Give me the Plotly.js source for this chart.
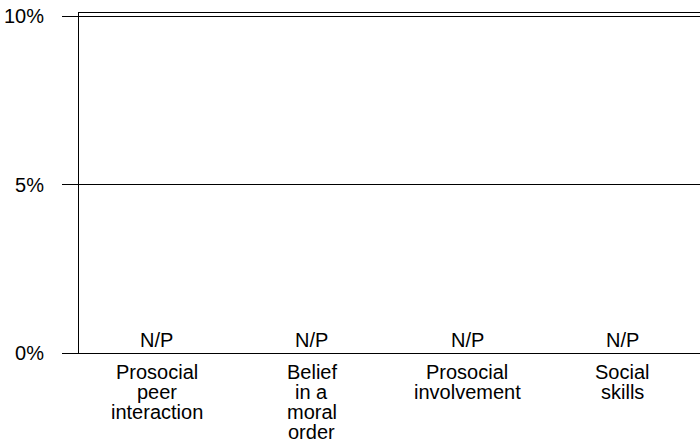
<!DOCTYPE html>
<html>
<head>
<meta charset="utf-8">
<script src="https://cdn.plot.ly/plotly-3.0.1.min.js"></script>
<style>html,body{margin:0;padding:0;background:#fff;}#chart{width:700px;height:442px;}</style>
</head>
<body>
<div id="chart"></div>
<script>
const categories = ["Prosocial peer interaction", "Belief in a moral order", "Prosocial involvement", "Social skills"];
const categoryLines = [["Prosocial", "peer", "interaction"], ["Belief", "in a", "moral", "order"], ["Prosocial", "involvement"], ["Social", "skills"]];
const values = [null, null, null, null];
const valueLabels = ["N/P", "N/P", "N/P", "N/P"];
const yTickVals = [0, 5, 10];
const yTickText = ["0%", "5%", "10%"];

const font = "Liberation Sans, Arial, sans-serif";
const FS = 20;

const data = [{
  type: "bar",
  x: categories,
  y: values,
  marker: {color: "#4f81bd"},
  hoverinfo: "skip"
}];

const annotations = [];
categories.forEach((c, i) => {
  annotations.push({
    x: c, y: 0, xref: "x", yref: "y",
    text: valueLabels[i], showarrow: false,
    yanchor: "bottom", yshift: 0,
    font: {family: font, size: FS, color: "#000"}
  });
  categoryLines[i].forEach((ln, j) => {
    annotations.push({
      x: c, y: 0, xref: "x", yref: "paper",
      text: ln, showarrow: false, borderpad: 0,
      yanchor: "middle", yshift: -(18.5 + 20.2 * j),
      font: {family: font, size: FS, color: "#000"}
    });
  });
});

const layout = {
  width: 700, height: 442,
  margin: {l: 79, r: 0, t: 13, b: 89},
  paper_bgcolor: "#fff", plot_bgcolor: "#fff",
  showlegend: false,
  font: {family: font, size: FS, color: "#000"},
  xaxis: {
    type: "category",
    categoryarray: categories,
    range: [-0.5, 3.5],
    showline: true, linecolor: "#000", linewidth: 1, mirror: true,
    ticks: "", showgrid: false, zeroline: false,
    showticklabels: false,
    fixedrange: true
  },
  yaxis: {
    range: [0, 10.089],
    tickvals: yTickVals, ticktext: yTickText,
    ticks: "outside", ticklen: 16, tickcolor: "#000", tickwidth: 1,
    ticklabelstandoff: 14,
    showgrid: true, gridcolor: "#000", gridwidth: 1,
    showline: true, linecolor: "#000", linewidth: 1,
    zeroline: false,
    tickfont: {family: font, size: FS, color: "#000"},
    fixedrange: true
  },
  annotations: annotations
};

Plotly.newPlot("chart", data, layout, {displayModeBar: false, staticPlot: true});
</script>
</body>
</html>
